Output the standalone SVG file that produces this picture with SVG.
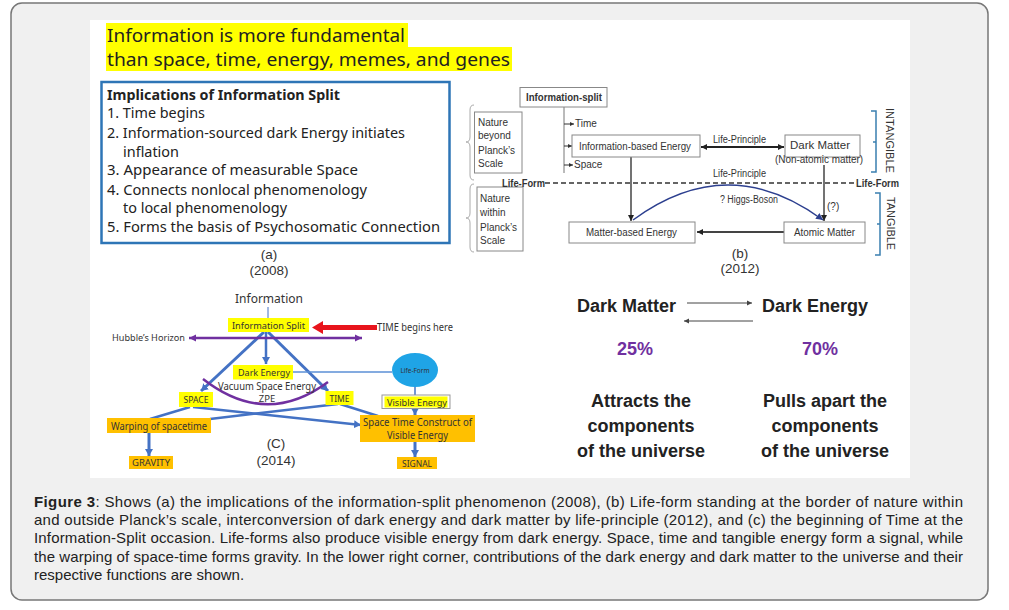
<svg xmlns="http://www.w3.org/2000/svg" width="1009" height="610" viewBox="0 0 1009 610">
<style>
.sans{font-family:"Liberation Sans",Arial,sans-serif}
.noto{font-family:"Noto Sans","Open Sans",sans-serif}
.bx{fill:#fff;stroke:#888;stroke-width:1}
.bt{font-family:"Liberation Sans",Arial,sans-serif;font-size:10px;fill:#333}
.ct{font-family:"Noto Sans","Open Sans",sans-serif;fill:#333}
.yl{fill:#ffff00}
.or{fill:#ffc000}
.bl{stroke:#4472c4;stroke-width:3;fill:none}
.bl2{stroke:#4472c4;stroke-width:2.5;fill:none}
.big{font-family:"Liberation Sans",Arial,sans-serif;font-weight:bold;font-size:18px;fill:#222}
.cap{font-family:"Liberation Sans",Arial,sans-serif;font-size:15px;fill:#222}
</style>
<defs>
<marker id="ab" markerUnits="userSpaceOnUse" markerWidth="7" markerHeight="7" refX="6" refY="3.5" orient="auto"><path d="M0,0.5 L6,3.5 L0,6.5 z" fill="#222"/></marker>
<marker id="abs" markerUnits="userSpaceOnUse" markerWidth="7" markerHeight="7" refX="6" refY="3.5" orient="auto-start-reverse"><path d="M0,0.5 L6,3.5 L0,6.5 z" fill="#222"/></marker>
<marker id="at" markerUnits="userSpaceOnUse" markerWidth="5" markerHeight="5" refX="4" refY="2.5" orient="auto"><path d="M0,0.5 L4,2.5 L0,4.5 z" fill="#333"/></marker>
<marker id="anv" markerUnits="userSpaceOnUse" markerWidth="8" markerHeight="8" refX="7" refY="4" orient="auto"><path d="M0,0.5 L7,4 L0,7.5 z" fill="#2c3f8f"/></marker>
<marker id="abl" markerUnits="userSpaceOnUse" markerWidth="9" markerHeight="9" refX="7" refY="4.5" orient="auto"><path d="M0,0.5 L7,4.5 L0,8.5 z" fill="#4472c4"/></marker>
<marker id="apu" markerUnits="userSpaceOnUse" markerWidth="9" markerHeight="9" refX="7" refY="4.5" orient="auto-start-reverse"><path d="M0,1 L7,4.5 L0,8 z" fill="#7030a0"/></marker>
<marker id="agr" markerUnits="userSpaceOnUse" markerWidth="6" markerHeight="6" refX="5" refY="3" orient="auto"><path d="M0,0.5 L5,3 L0,5.5 z" fill="#444"/></marker>
</defs>

<rect x="11" y="3" width="977" height="597" rx="11" fill="#f0f0f0" stroke="#777" stroke-width="1.5"/>
<rect x="90" y="20" width="820" height="458" fill="#fff"/>

<g id="title">
<rect x="106" y="23" width="302" height="24.5" class="yl"/>
<rect x="106" y="47" width="406" height="24" class="yl"/>
<text x="107" y="42" class="noto" font-size="18.5" fill="#222" textLength="298" lengthAdjust="spacingAndGlyphs">Information is more fundamental</text>
<text x="107" y="66" class="noto" font-size="18.5" fill="#222" textLength="403" lengthAdjust="spacingAndGlyphs">than space, time, energy, memes, and genes</text>
</g>

<g id="panel-a">
<rect x="101.5" y="82" width="348" height="161" fill="#fff" stroke="#2e75b6" stroke-width="2.5"/>
<g class="noto" font-size="14" fill="#222">
<text x="107" y="100" font-weight="bold" textLength="233" lengthAdjust="spacingAndGlyphs">Implications of Information Split</text>
<text x="107" y="118" textLength="98" lengthAdjust="spacingAndGlyphs">1. Time begins</text>
<text x="107" y="138" textLength="298" lengthAdjust="spacingAndGlyphs">2. Information-sourced dark Energy initiates</text>
<text x="123" y="157" textLength="56" lengthAdjust="spacingAndGlyphs">inflation</text>
<text x="107" y="175" textLength="251" lengthAdjust="spacingAndGlyphs">3. Appearance of  measurable Space</text>
<text x="107" y="195" textLength="260" lengthAdjust="spacingAndGlyphs">4. Connects nonlocal phenomenology</text>
<text x="123" y="213" textLength="164" lengthAdjust="spacingAndGlyphs">to local phenomenology</text>
<text x="107" y="232" textLength="333" lengthAdjust="spacingAndGlyphs">5. Forms the basis of Psychosomatic Connection</text>
</g>
<g class="sans" font-size="13.5" fill="#333" text-anchor="middle">
<text x="269" y="259">(a)</text>
<text x="269" y="275">(2008)</text>
</g>
</g>

<g id="panel-b">
<g id="b-connectors" fill="none">
<path d="M474 105 Q470 105 470 110 L470 137 Q470 142 466 142 Q470 142 470 147 L470 175 Q470 180 474 180" stroke="#aaa" stroke-width="1"/>
<path d="M474 184 Q470 184 470 189 L470 213 Q470 218 466 218 Q470 218 470 223 L470 247 Q470 252 474 252" stroke="#aaa" stroke-width="1"/>
<line x1="564" y1="107" x2="564" y2="173" stroke="#777" stroke-width="1"/>
<line x1="564" y1="124" x2="574" y2="124" stroke="#333" stroke-width="1" marker-end="url(#at)"/>
<line x1="564" y1="146" x2="572" y2="146" stroke="#333" stroke-width="1" marker-end="url(#at)"/>
<line x1="564" y1="165" x2="573" y2="165" stroke="#333" stroke-width="1" marker-end="url(#at)"/>
<line x1="701" y1="147" x2="784" y2="147" stroke="#222" stroke-width="2" marker-start="url(#abs)" marker-end="url(#abs)"/>
<line x1="545" y1="183" x2="855" y2="183" stroke="#333" stroke-width="1.5" stroke-dasharray="5,3"/>
<line x1="631" y1="157" x2="631" y2="221" stroke="#444" stroke-width="1.5" marker-end="url(#ab)"/>
<line x1="824" y1="165" x2="824" y2="221" stroke="#444" stroke-width="1.5" marker-end="url(#ab)"/>
<path d="M633 220 Q728 150 823 220" stroke="#2c3f8f" stroke-width="1.5" marker-end="url(#anv)"/>
<line x1="784" y1="232" x2="697" y2="232" stroke="#444" stroke-width="2" marker-end="url(#ab)"/>
<path d="M871 111 L876 111 L876 172 L871 172 M876 142 L873 142" stroke="#3a7fb0" stroke-width="1.5"/>
<path d="M875 193 L880 193 L880 255 L875 255 M880 224 L877 224" stroke="#3a7fb0" stroke-width="1.5"/>
</g>
<g id="b-info-split"><rect x="520" y="87.5" width="87" height="19.5" class="bx"/><text x="526" y="101" class="bt" font-weight="bold" fill="#222" textLength="76" lengthAdjust="spacingAndGlyphs">Information-split</text></g>
<g id="b-nature-beyond"><rect x="474.5" y="112" width="47.5" height="61" class="bx" stroke="#666"/>
<text class="bt" font-size="9.5"><tspan x="478" y="126">Nature</tspan><tspan x="478" y="139">beyond</tspan><tspan x="478" y="154">Planck’s</tspan><tspan x="478" y="167">Scale</tspan></text></g>
<g id="b-nature-within"><rect x="477" y="187" width="46" height="64" class="bx" stroke="#666"/>
<text class="bt" font-size="9.5"><tspan x="480" y="202">Nature</tspan><tspan x="480" y="216">within</tspan><tspan x="480" y="231">Planck’s</tspan><tspan x="480" y="244">Scale</tspan></text></g>
<text x="575" y="127" class="bt" font-size="9.5">Time</text>
<text x="574" y="168" class="bt" font-size="9.5">Space</text>
<g id="b-ibe"><rect x="572" y="135" width="128" height="22" class="bx"/><text x="579" y="149.5" class="bt" textLength="112" lengthAdjust="spacingAndGlyphs">Information-based Energy</text></g>
<g id="b-dm"><rect x="785" y="135" width="75" height="22" class="bx"/><text x="790" y="149" class="bt" textLength="60" lengthAdjust="spacingAndGlyphs">Dark Matter</text>
<text x="775" y="163" class="bt" textLength="88" lengthAdjust="spacingAndGlyphs">(Non-atomic matter)</text></g>
<text x="713" y="143" class="bt" font-size="9" fill="#555" textLength="53" lengthAdjust="spacingAndGlyphs">Life-Principle</text>
<text x="713" y="177" class="bt" font-size="9" fill="#555" textLength="53" lengthAdjust="spacingAndGlyphs">Life-Principle</text>
<text x="502" y="187" class="bt" font-weight="bold" fill="#222" textLength="43" lengthAdjust="spacingAndGlyphs">Life-Form</text>
<text x="856" y="187" class="bt" font-weight="bold" fill="#222" textLength="43" lengthAdjust="spacingAndGlyphs">Life-Form</text>
<text x="720" y="203" class="bt" font-size="9" fill="#555" textLength="58" lengthAdjust="spacingAndGlyphs">? Higgs-Boson</text>
<text x="827" y="210" class="bt" font-size="9.5">(?)</text>
<g id="b-mbe"><rect x="569" y="222" width="126" height="21" class="bx"/><text x="586" y="236" class="bt" textLength="91" lengthAdjust="spacingAndGlyphs">Matter-based Energy</text></g>
<g id="b-am"><rect x="784" y="222" width="81" height="21" class="bx"/><text x="794" y="236" class="bt" textLength="61" lengthAdjust="spacingAndGlyphs">Atomic Matter</text></g>
<text transform="translate(886 108) rotate(90)" class="bt" font-size="10.5" fill="#333" textLength="65" lengthAdjust="spacingAndGlyphs">INTANGIBLE</text>
<text transform="translate(887 197) rotate(90)" class="bt" font-size="10.5" fill="#333" textLength="53" lengthAdjust="spacingAndGlyphs">TANGIBLE</text>
<g class="sans" font-size="13.5" fill="#333" text-anchor="middle">
<text x="740" y="258">(b)</text>
<text x="740" y="273">(2012)</text>
</g>
</g>

<g id="panel-c">
<g id="c-connectors">
<line x1="268" y1="307" x2="268" y2="318" stroke="#4472c4" stroke-width="1"/>
<line x1="264" y1="332" x2="201" y2="391" class="bl" marker-end="url(#abl)"/>
<line x1="268" y1="332" x2="328" y2="391" class="bl" marker-end="url(#abl)"/>
<line x1="266" y1="332" x2="266" y2="364" class="bl2" marker-end="url(#abl)"/>
<line x1="189" y1="338" x2="362" y2="338" stroke="#7030a0" stroke-width="2.5" marker-start="url(#apu)" marker-end="url(#apu)"/>
<polygon points="377,325 323,325 323,321 312,327.5 323,334 323,330 377,330" fill="#e8141c"/>
<line x1="293" y1="372" x2="392" y2="372" stroke="#5b8fd6" stroke-width="1.5"/>
<path d="M203 379 Q266 428 328 382" stroke="#7030a0" stroke-width="2.5" fill="none"/>
<line x1="415" y1="387" x2="415" y2="395" stroke="#4472c4" stroke-width="1.5"/>
<line x1="190" y1="407" x2="150" y2="419" class="bl2"/>
<line x1="193" y1="407" x2="361" y2="425" class="bl2" marker-end="url(#abl)"/>
<line x1="338" y1="404" x2="210" y2="419" class="bl2"/>
<line x1="340" y1="404" x2="378" y2="416" class="bl2"/>
<line x1="149" y1="433" x2="149" y2="456" class="bl" marker-end="url(#abl)"/>
<line x1="415" y1="408" x2="415" y2="415" class="bl" marker-end="url(#abl)"/>
<line x1="415" y1="442" x2="415" y2="457" class="bl" marker-end="url(#abl)"/>
</g>
<text x="269" y="303" class="ct" font-size="13" text-anchor="middle" fill="#444" textLength="68" lengthAdjust="spacingAndGlyphs">Information</text>
<g id="c-info-split"><rect x="228" y="318" width="81" height="14" class="yl"/><text x="232" y="329" class="ct" font-size="9.5" textLength="73" lengthAdjust="spacingAndGlyphs">Information Split</text></g>
<text x="377" y="331" class="ct" font-size="10" textLength="76" lengthAdjust="spacingAndGlyphs">TIME begins here</text>
<text x="112" y="341" class="ct" font-size="9.5" textLength="73" lengthAdjust="spacingAndGlyphs">Hubble’s Horizon</text>
<g id="c-dark-energy"><rect x="233" y="365" width="60" height="14.5" class="yl"/><text x="238" y="376" class="ct" font-size="9.5" textLength="52" lengthAdjust="spacingAndGlyphs">Dark Energy</text></g>
<text x="267" y="390" class="ct" font-size="10.5" text-anchor="middle" textLength="98" lengthAdjust="spacingAndGlyphs">Vacuum Space Energy</text>
<text x="267" y="402" class="ct" font-size="9.5" text-anchor="middle">ZPE</text>
<g id="c-life-form"><ellipse cx="415" cy="370" rx="23" ry="17" fill="#1fa4e6"/><text x="415" y="372.5" class="ct" font-size="6.5" fill="#e9d64c" text-anchor="middle">Life-Form</text></g>
<g id="c-space"><rect x="179" y="392" width="34" height="15" class="yl"/><text x="196" y="403" class="ct" font-size="9" text-anchor="middle" textLength="25" lengthAdjust="spacingAndGlyphs">SPACE</text></g>
<g id="c-time"><rect x="325.5" y="391" width="28" height="14" class="yl"/><text x="339.5" y="402" class="ct" font-size="9" text-anchor="middle" textLength="20" lengthAdjust="spacingAndGlyphs">TIME</text></g>
<g id="c-visible"><rect x="382" y="395" width="68" height="13.5" fill="#fff" stroke="#999" stroke-width="1"/><rect x="384.5" y="396.5" width="63" height="11" class="yl"/><text x="387" y="405.5" class="ct" font-size="9.5" textLength="60" lengthAdjust="spacingAndGlyphs">Visible Energy</text></g>
<g id="c-construct"><rect x="360" y="415" width="115" height="27" class="or"/><text x="417.5" y="426" class="ct" font-size="10" text-anchor="middle" textLength="109" lengthAdjust="spacingAndGlyphs">Space Time Construct of</text><text x="417.5" y="439" class="ct" font-size="10" text-anchor="middle" textLength="61" lengthAdjust="spacingAndGlyphs">Visible Energy</text></g>
<g id="c-warping"><rect x="107" y="418" width="104" height="15" class="or"/><text x="111" y="429.5" class="ct" font-size="10" textLength="96" lengthAdjust="spacingAndGlyphs">Warping of spacetime</text></g>
<g id="c-gravity"><rect x="129" y="456" width="44" height="13" class="or"/><text x="151" y="466" class="ct" font-size="8.5" text-anchor="middle" textLength="38" lengthAdjust="spacingAndGlyphs">GRAVITY</text></g>
<g id="c-signal"><rect x="397" y="457" width="40" height="12" class="or"/><text x="417" y="466.5" class="ct" font-size="8.5" text-anchor="middle" textLength="30" lengthAdjust="spacingAndGlyphs">SIGNAL</text></g>
<g class="sans" font-size="13.5" fill="#333" text-anchor="middle">
<text x="276" y="448">(C)</text>
<text x="276" y="465">(2014)</text>
</g>
</g>

<g id="panel-d">
<g id="d-connectors">
<line x1="687" y1="303" x2="752" y2="303" stroke="#444" stroke-width="1" marker-end="url(#agr)"/>
<line x1="753" y1="321" x2="684" y2="321" stroke="#444" stroke-width="1" marker-end="url(#agr)"/>
</g>
<text x="577" y="312" class="big">Dark Matter</text>
<text x="762" y="312" class="big">Dark Energy</text>
<text x="635" y="355" class="big" fill="#7030a0" text-anchor="middle" style="fill:#7030a0">25%</text>
<text x="820" y="355" class="big" text-anchor="middle" style="fill:#7030a0">70%</text>
<g class="big" text-anchor="middle">
<text x="641" y="407">Attracts the</text>
<text x="641" y="432">components</text>
<text x="641" y="457">of the universe</text>
<text x="825" y="407">Pulls apart the</text>
<text x="825" y="432">components</text>
<text x="825" y="457">of  the universe</text>
</g>
</g>

<g id="caption" class="cap">
<text x="34" y="507" textLength="929" lengthAdjust="spacing"><tspan font-weight="bold">Figure 3</tspan>: Shows (a) the implications of the information-split phenomenon (2008), (b) Life-form standing at the border of nature within</text>
<text x="34" y="525" textLength="929" lengthAdjust="spacing">and outside Planck’s scale, interconversion of dark energy and dark matter by life-principle (2012), and (c) the beginning of Time at the</text>
<text x="34" y="543" textLength="929" lengthAdjust="spacing">Information-Split occasion. Life-forms also produce visible energy from dark energy. Space, time and tangible energy form a signal, while</text>
<text x="34" y="562" textLength="929" lengthAdjust="spacing">the warping of space-time forms gravity. In the lower right corner, contributions of the dark energy and dark matter to the universe and their</text>
<text x="34" y="580">respective functions are shown.</text>
</g>
</svg>
